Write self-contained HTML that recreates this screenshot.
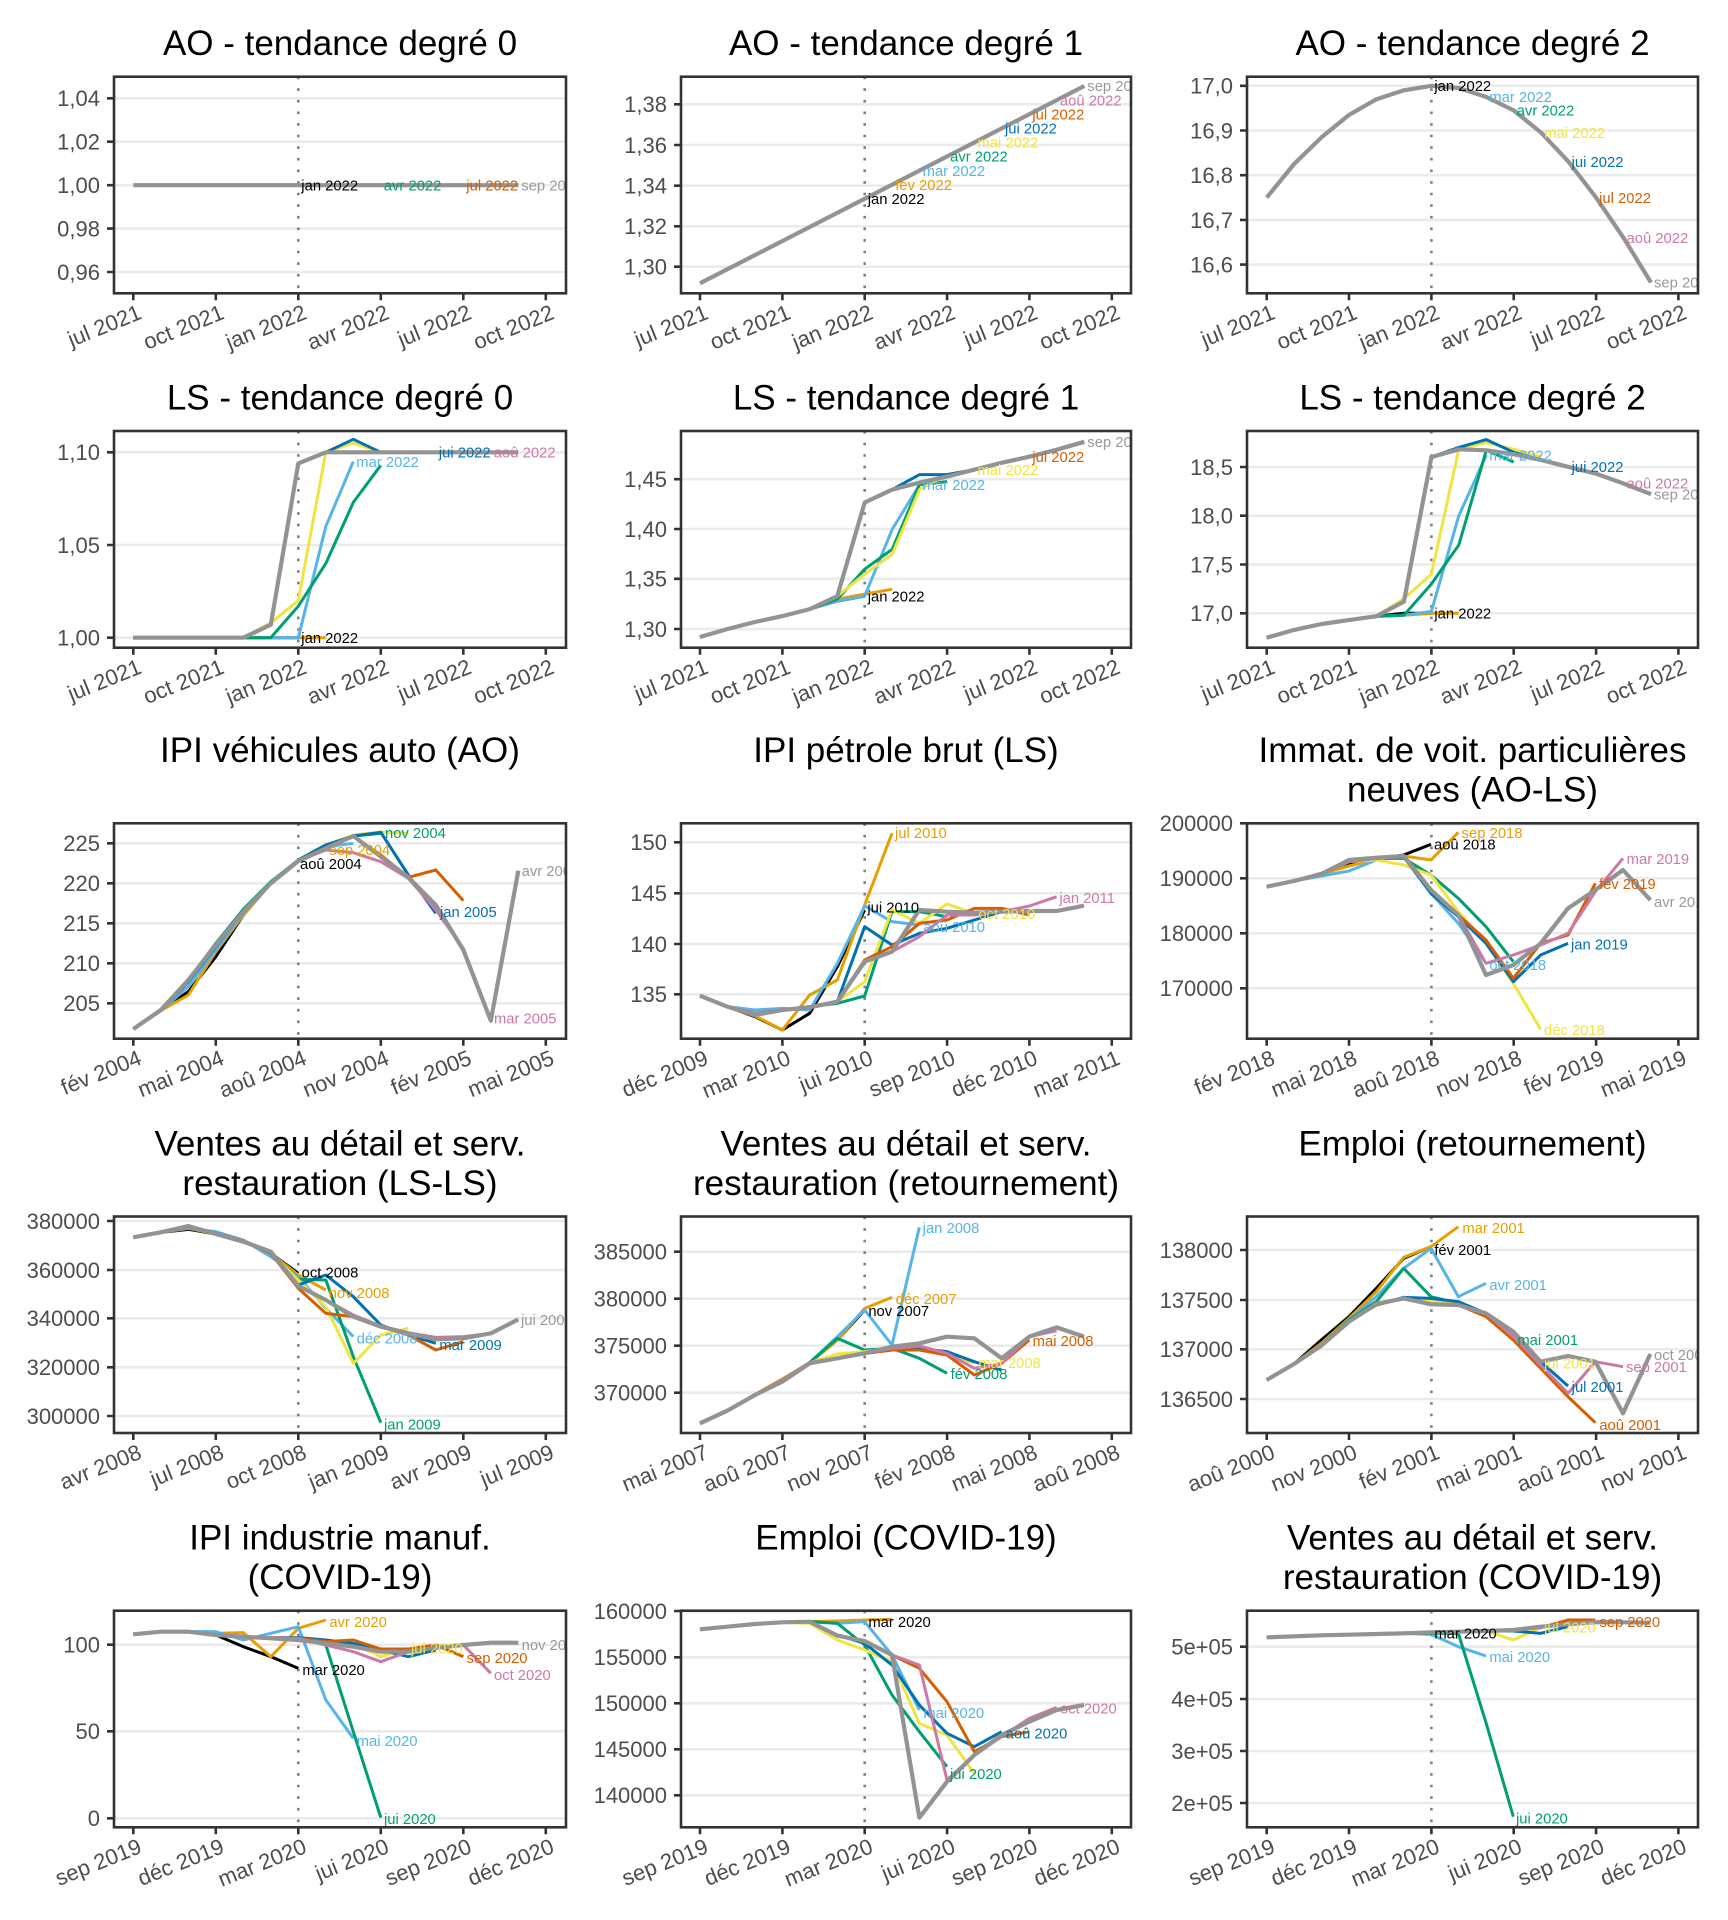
<!DOCTYPE html>
<html><head><meta charset="utf-8">
<style>
html,body{margin:0;padding:0;background:#fff}
svg{display:block}
polyline{fill:none;stroke-width:3;stroke-linejoin:round;stroke-linecap:butt;vector-effect:non-scaling-stroke}
.b{stroke:#000}.o{stroke:#E69F00}.s{stroke:#56B4E9}.g{stroke:#009E73}.y{stroke:#F0E442}.u{stroke:#0072B2}.v{stroke:#D55E00}.p{stroke:#CC79A7}.k{stroke:#939393;stroke-width:4.2}
.tb{fill:#000}.to{fill:#E69F00}.ts{fill:#56B4E9}.tg{fill:#009E73}.ty{fill:#F0E442}.tu{fill:#0072B2}.tv{fill:#D55E00}.tp{fill:#CC79A7}.tk{fill:#999999}
.grid{stroke:#ebebeb;stroke-width:2.6;fill:none}
.vl{stroke:#7f7f7f;stroke-width:2.6;stroke-dasharray:2.6 9;fill:none}
.bd{fill:none;stroke:#333;stroke-width:2.6}
.tick{stroke:#333;stroke-width:2.6;fill:none}
.yt text{font-size:22px;fill:#4d4d4d;text-anchor:end}
.xt text{font-size:22px;fill:#4d4d4d;text-anchor:end}
.ttl text{font-size:35px;fill:#000;text-anchor:middle}
.lab text{font-size:14.8px}
.zl text{font-size:44.4px}
</style></head>
<body>
<svg width="1728" height="1920" viewBox="0 0 1728 1920" xmlns="http://www.w3.org/2000/svg" font-family="'Liberation Sans', Arial, sans-serif">
<defs>
<clipPath id="c1"><rect x="114" y="76.7" width="452" height="216.6"/></clipPath>
<clipPath id="c2"><rect x="681" y="76.7" width="450" height="216.6"/></clipPath>
<clipPath id="c3"><rect x="1247" y="76.7" width="451" height="216.6"/></clipPath>
<clipPath id="c4"><rect x="114" y="431" width="452" height="216.7"/></clipPath>
<clipPath id="c5"><rect x="681" y="431" width="450" height="216.7"/></clipPath>
<clipPath id="c6"><rect x="1247" y="431" width="451" height="216.7"/></clipPath>
<clipPath id="c7"><rect x="114" y="823.3" width="452" height="215.4"/></clipPath>
<clipPath id="c8"><rect x="681" y="823.3" width="450" height="215.4"/></clipPath>
<clipPath id="c9"><rect x="1247" y="823.3" width="451" height="215.4"/></clipPath>
<clipPath id="c10"><rect x="114" y="1216.5" width="452" height="216.5"/></clipPath>
<clipPath id="c11"><rect x="681" y="1216.5" width="450" height="216.5"/></clipPath>
<clipPath id="c12"><rect x="1247" y="1216.5" width="451" height="216.5"/></clipPath>
<clipPath id="c13"><rect x="114" y="1610.7" width="452" height="216.6"/></clipPath>
<clipPath id="c14"><rect x="681" y="1610.7" width="450" height="216.6"/></clipPath>
<clipPath id="c15"><rect x="1247" y="1610.7" width="451" height="216.6"/></clipPath>
</defs>

<!-- ================= TITLES ================= -->
<g class="ttl">
<text x="340" y="55">AO - tendance degré 0</text>
<text x="906" y="55">AO - tendance degré 1</text>
<text x="1472.5" y="55">AO - tendance degré 2</text>
<text x="340" y="409.3">LS - tendance degré 0</text>
<text x="906" y="409.3">LS - tendance degré 1</text>
<text x="1472.5" y="409.3">LS - tendance degré 2</text>
<text x="340" y="762">IPI véhicules auto (AO)</text>
<text x="906" y="762">IPI pétrole brut (LS)</text>
<text x="1472.5" y="762">Immat. de voit. particulières</text>
<text x="1472.5" y="801.6">neuves (AO-LS)</text>
<text x="340" y="1155.3">Ventes au détail et serv.</text>
<text x="340" y="1194.8">restauration (LS-LS)</text>
<text x="906" y="1155.3">Ventes au détail et serv.</text>
<text x="906" y="1194.8">restauration (retournement)</text>
<text x="1472.5" y="1155.3">Emploi (retournement)</text>
<text x="340" y="1549.5">IPI industrie manuf.</text>
<text x="340" y="1589">(COVID-19)</text>
<text x="906" y="1549.5">Emploi (COVID-19)</text>
<text x="1472.5" y="1549.5">Ventes au détail et serv.</text>
<text x="1472.5" y="1589">restauration (COVID-19)</text>
</g>

<!-- ================= GRIDLINES ================= -->
<path class="grid" d="M114 98.3H566M114 141.7H566M114 185.2H566M114 228.6H566M114 272H566
M681 104.3H1131M681 145H1131M681 185.7H1131M681 226.3H1131M681 266.7H1131
M1247 85.8H1698M1247 130.5H1698M1247 175.2H1698M1247 219.9H1698M1247 264.6H1698
M114 452.3H566M114 545H566M114 637.7H566
M681 479.2H1131M681 529H1131M681 578.8H1131M681 629H1131
M1247 467H1698M1247 515.7H1698M1247 564.5H1698M1247 613.3H1698
M114 843.3H566M114 883.3H566M114 923.3H566M114 963.3H566M114 1003.3H566
M681 842.3H1131M681 893.3H1131M681 944H1131M681 994.3H1131
M1247 824.5H1698M1247 878.3H1698M1247 933.3H1698M1247 988.3H1698
M114 1221H566M114 1270H566M114 1318.3H566M114 1367.3H566M114 1416H566
M681 1251.7H1131M681 1298.7H1131M681 1345.7H1131M681 1392.7H1131
M1247 1250H1698M1247 1300H1698M1247 1349.3H1698M1247 1399H1698
M114 1644.7H566M114 1731.3H566M114 1818.3H566
M681 1612H1131M681 1657.3H1131M681 1703.3H1131M681 1749.3H1131M681 1795.3H1131
M1247 1646.7H1698M1247 1699H1698M1247 1751H1698M1247 1803H1698"/>

<!-- ================= VERTICAL DOTTED LINES ================= -->
<path class="vl" d="M298.3 76.7V293.3M864.7 76.7V293.3M1431.4 76.7V293.3
M298.3 431V647.7M864.7 431V647.7M1431.4 431V647.7
M298.3 823.3V1038.7M864.7 823.3V1038.7M1431.4 823.3V1038.7
M298.3 1216.5V1433M864.7 1216.5V1433M1431.4 1216.5V1433
M298.3 1610.7V1827.3M864.7 1610.7V1827.3M1431.4 1610.7V1827.3"/>

<!-- ================= P1 ================= -->
<g clip-path="url(#c1)">
<polyline class="k" points="133.3,185.2 518.3,185.2"/>
<g class="lab">
<text class="tb" x="301.3" y="185.2" dy=".35em">jan 2022</text>
<text class="tg" x="383.8" y="185.2" dy=".35em">avr 2022</text>
<text class="tv" x="466.3" y="185.2" dy=".35em">jul 2022</text>
<text class="tk" x="521.3" y="185.2" dy=".35em">sep 2022</text>
</g></g>

<!-- ================= P2 ================= -->
<g clip-path="url(#c2)">
<polyline class="k" points="700,283.3 1084.3,86"/>
<g class="lab">
<text class="tb" x="867.7" y="198.8" dy=".35em">jan 2022</text>
<text class="to" x="895.2" y="184.7" dy=".35em">fév 2022</text>
<text class="ts" x="922.6" y="170.6" dy=".35em">mar 2022</text>
<text class="tg" x="950.1" y="156.5" dy=".35em">avr 2022</text>
<text class="ty" x="977.5" y="142.4" dy=".35em">mai 2022</text>
<text class="tu" x="1005" y="128.3" dy=".35em">jui 2022</text>
<text class="tv" x="1032.4" y="114.2" dy=".35em">jul 2022</text>
<text class="tp" x="1059.9" y="100.1" dy=".35em">aoû 2022</text>
<text class="tk" x="1087.3" y="86" dy=".35em">sep 2022</text>
</g></g>

<!-- ================= P3 ================= -->
<g clip-path="url(#c3)">
<polyline class="k" points="1266.7,197.6 1294.1,164 1321.6,137.2 1349,114.9 1376.5,99.2 1403.9,90.3 1431.4,85.8 1458.8,88 1486.3,97 1513.7,110.4 1541.2,132.7 1568.6,161.8 1596.1,197.6 1623.5,237.8 1651,282.5"/>
<g class="lab">
<text class="tb" x="1434.4" y="85.8" dy=".35em">jan 2022</text>
<text class="ts" x="1489.3" y="97" dy=".35em">mar 2022</text>
<text class="tg" x="1516.7" y="110.4" dy=".35em">avr 2022</text>
<text class="ty" x="1544.2" y="132.7" dy=".35em">mai 2022</text>
<text class="tu" x="1571.6" y="161.8" dy=".35em">jui 2022</text>
<text class="tv" x="1599.1" y="197.6" dy=".35em">jul 2022</text>
<text class="tp" x="1626.5" y="237.8" dy=".35em">aoû 2022</text>
<text class="tk" x="1654" y="282.5" dy=".35em">sep 2022</text>
</g></g>

<!-- ================= P4 ================= -->
<g clip-path="url(#c4)">
<polyline class="b" points="133.3,637.7 298.3,637.7"/>
<polyline class="o" points="133.3,637.7 325.8,637.7"/>
<polyline class="s" points="133.3,637.7 298.3,637.7 325.8,526.5 353.3,461.6"/>
<polyline class="g" points="133.3,637.7 270.8,637.7 298.3,606.2 325.8,563.5 353.3,502.4 380.8,465.3"/>
<polyline class="y" points="133.3,637.7 243.3,637.7 270.8,622.9 298.3,600.6 325.8,452.3 353.3,443 380.8,452.3 408.3,452.3"/>
<polyline class="u" points="133.3,637.7 243.3,637.7 270.8,624.7 298.3,463.4 325.8,452.3 353.3,439.3 380.8,452.3 435.8,452.3"/>
<polyline class="v" points="133.3,637.7 243.3,637.7 270.8,624.7 298.3,463.4 325.8,452.3 463.3,452.3"/>
<polyline class="p" points="133.3,637.7 243.3,637.7 270.8,624.7 298.3,463.4 325.8,452.3 490.8,452.3"/>
<polyline class="k" points="133.3,637.7 243.3,637.7 270.8,624.7 298.3,463.4 325.8,452.3 518.3,452.3"/>
<g class="lab">
<text class="tb" x="301.3" y="637.7" dy=".35em">jan 2022</text>
<text class="ts" x="356.3" y="461.6" dy=".35em">mar 2022</text>
<text class="tu" x="438.8" y="452.3" dy=".35em">jui 2022</text>
<text class="tp" x="493.8" y="452.3" dy=".35em">aoû 2022</text>
</g></g>

<!-- ================= P5 ================= -->
<g clip-path="url(#c5)">
<polyline class="b" points="700,637 727.5,629 754.9,622 782.4,616.1 809.8,609.1 837.3,601.1 864.7,596.1"/>
<polyline class="o" points="700,637 727.5,629 754.9,622 782.4,616.1 809.8,609.1 837.3,599.1 864.7,594.1 892.2,589.2"/>
<polyline class="s" points="700,637 727.5,629 754.9,622 782.4,616.1 809.8,609.1 837.3,601 864.7,596.1 892.2,529.4 919.6,484.6"/>
<polyline class="g" points="700,637 727.5,629 754.9,622 782.4,616.1 809.8,609.1 837.3,599.1 864.7,569.2 892.2,549.3 919.6,484.6 947.1,481.6"/>
<polyline class="y" points="700,637 727.5,629 754.9,622 782.4,616.1 809.8,609.1 837.3,596.1 864.7,574.2 892.2,554.3 919.6,489.6 947.1,474.6 974.5,469.6"/>
<polyline class="u" points="700,637 727.5,629 754.9,622 782.4,616.1 809.8,609.1 837.3,596.1 864.7,502.5 892.2,489.6 919.6,474.6 947.1,474.6 974.5,469.6 1002,462.7"/>
<polyline class="v" points="700,637 727.5,629 754.9,622 782.4,616.1 809.8,609.1 837.3,596.1 864.7,502.5 892.2,489.6 919.6,482.6 947.1,476.6 974.5,469.6 1002,462.7 1029.4,456.7"/>
<polyline class="p" points="700,637 727.5,629 754.9,622 782.4,616.1 809.8,609.1 837.3,596.1 864.7,502.5 892.2,489.6 919.6,482.6 947.1,476.6 974.5,469.6 1002,462.7 1029.4,456.7 1056.9,449.7"/>
<polyline class="k" points="700,637 727.5,629 754.9,622 782.4,616.1 809.8,609.1 837.3,596.1 864.7,502.5 892.2,489.6 919.6,482.6 947.1,476.6 974.5,469.6 1002,462.7 1029.4,456.7 1056.9,449.7 1084.3,441.8"/>
<g class="lab">
<text class="tb" x="867.7" y="596.1" dy=".35em">jan 2022</text>
<text class="ts" x="922.6" y="484.6" dy=".35em">mar 2022</text>
<text class="ty" x="977.5" y="469.6" dy=".35em">mai 2022</text>
<text class="tv" x="1032.4" y="456.7" dy=".35em">jul 2022</text>
<text class="tk" x="1087.3" y="441.8" dy=".35em">sep 2022</text>
</g></g>

<!-- ================= P6 ================= -->
<g clip-path="url(#c6)">
<polyline class="b" points="1266.7,637.7 1294.1,629.9 1321.6,624 1349,620.1 1376.5,616.2 1403.9,613.3 1431.4,613.3"/>
<polyline class="o" points="1266.7,637.7 1294.1,629.9 1321.6,624 1349,620.1 1376.5,616.2 1403.9,615.3 1431.4,613.3 1458.8,613.3"/>
<polyline class="s" points="1266.7,637.7 1294.1,629.9 1321.6,624 1349,620.1 1376.5,616.2 1403.9,615.3 1431.4,611.4 1458.8,515.7 1486.3,455.2"/>
<polyline class="g" points="1266.7,637.7 1294.1,629.9 1321.6,624 1349,620.1 1376.5,616.2 1403.9,615.3 1431.4,584 1458.8,545 1486.3,450.3 1513.7,462"/>
<polyline class="y" points="1266.7,637.7 1294.1,629.9 1321.6,624 1349,620.1 1376.5,616.2 1403.9,598.7 1431.4,574.3 1458.8,449.3 1486.3,442.5 1513.7,449.3 1541.2,457.1"/>
<polyline class="u" points="1266.7,637.7 1294.1,629.9 1321.6,624 1349,620.1 1376.5,616.2 1403.9,601.6 1431.4,457.1 1458.8,447.4 1486.3,439.6 1513.7,452.3 1541.2,460.1 1568.6,466.9"/>
<polyline class="v" points="1266.7,637.7 1294.1,629.9 1321.6,624 1349,620.1 1376.5,616.2 1403.9,601.6 1431.4,457.1 1458.8,449.3 1486.3,450.3 1513.7,454.2 1541.2,460.1 1568.6,466.9 1596.1,473.7"/>
<polyline class="p" points="1266.7,637.7 1294.1,629.9 1321.6,624 1349,620.1 1376.5,616.2 1403.9,601.6 1431.4,457.1 1458.8,449.3 1486.3,450.3 1513.7,454.2 1541.2,460.1 1568.6,466.9 1596.1,473.7 1623.5,483.5"/>
<polyline class="k" points="1266.7,637.7 1294.1,629.9 1321.6,624 1349,620.1 1376.5,616.2 1403.9,601.6 1431.4,457.1 1458.8,449.3 1486.3,450.3 1513.7,454.2 1541.2,460.1 1568.6,466.9 1596.1,473.7 1623.5,483.5 1651,494.2"/>
<g class="lab">
<text class="tb" x="1434.4" y="613.3" dy=".35em">jan 2022</text>
<text class="ts" x="1489.3" y="455.2" dy=".35em">mar 2022</text>
<text class="tu" x="1571.6" y="466.9" dy=".35em">jui 2022</text>
<text class="tp" x="1626.5" y="483.5" dy=".35em">aoû 2022</text>
<text class="tk" x="1654" y="494.2" dy=".35em">sep 2022</text>
</g></g>

<!-- ================= P7 ================= -->
<g clip-path="url(#c7)"><g transform="translate(90,800) scale(0.333333)">
<polyline class="b" points="130,687 212.5,632 295,575 377.5,470 460,345 542.5,250 625,183"/>
<polyline class="o" points="130,687 212.5,632 295,585 377.5,455 460,345 542.5,250 625,180 707.5,140"/>
<polyline class="s" points="130,687 212.5,632 295,560 377.5,450 460,340 542.5,250 625,182 707.5,140 790,130"/>
<polyline class="g" points="130,687 212.5,632 295,540 377.5,430 460,328 542.5,245 625,180 707.5,135 790,108 872.5,100"/>
<polyline class="y" points="130,687 212.5,632 295,540 377.5,435 460,335 542.5,248 625,180 707.5,135 790,105 872.5,96 955,100"/>
<polyline class="u" points="130,687 212.5,632 295,545 377.5,440 460,335 542.5,248 625,180 707.5,135 790,108 872.5,97 955,225 1037.5,340"/>
<polyline class="v" points="130,687 212.5,632 295,540 377.5,435 460,335 542.5,250 625,183 707.5,145 790,110 872.5,165 955,232 1037.5,210 1120,302"/>
<polyline class="p" points="130,687 212.5,632 295,540 377.5,435 460,335 542.5,250 625,183 707.5,150 790,158 872.5,185 955,235 1037.5,330 1120,445 1202.5,660"/>
<polyline class="k" points="130,687 212.5,630 295,540 377.5,435 460,335 542.5,250 625,183 707.5,145 790,108 872.5,170 955,232 1037.5,315 1120,450 1202.5,662 1285,212"/>
<g class="zl">
<text class="tb" x="630" y="192" dy=".35em">aoû 2004</text>
<text class="to" x="718" y="150" dy=".35em">sep 2004</text>
<text class="tg" x="885" y="98" dy=".35em">nov 2004</text>
<text class="tu" x="1050" y="336" dy=".35em">jan 2005</text>
<text class="tp" x="1212" y="655" dy=".35em">mar 2005</text>
<text class="tk" x="1295" y="212" dy=".35em">avr 2005</text>
</g></g></g>

<!-- ================= P8 ================= -->
<g clip-path="url(#c8)"><g transform="translate(660,800) scale(0.333333)">
<polyline class="b" points="120,587 202,620 285,650 367,690 449,640 532,500 614,330"/>
<polyline class="o" points="120,587 202,620 285,648 367,690 449,585 532,540 614,315 696,100"/>
<polyline class="s" points="120,587 202,620 285,630 367,625 449,630 532,490 614,318 696,365 778,375"/>
<polyline class="g" points="120,587 202,620 285,640 367,630 449,620 532,610 614,588 696,335 778,335 861,350"/>
<polyline class="y" points="120,587 202,620 285,640 367,630 449,620 532,605 614,545 696,330 778,370 861,312 943,340"/>
<polyline class="u" points="120,587 202,620 285,640 367,630 449,620 532,605 614,380 696,435 778,400 861,385 943,360 1025,335"/>
<polyline class="v" points="120,587 202,620 285,640 367,630 449,620 532,605 614,480 696,440 778,370 861,360 943,325 1025,325 1108,345"/>
<polyline class="p" points="120,587 202,620 285,640 367,630 449,620 532,605 614,485 696,455 778,410 861,345 943,345 1025,335 1108,318 1190,290"/>
<polyline class="k" points="120,587 202,620 285,645 367,630 449,622 532,605 614,485 696,455 778,330 861,335 943,338 1025,335 1108,333 1190,333 1272,317"/>
<g class="zl">
<text class="tb" x="622" y="322" dy=".35em">jui 2010</text>
<text class="to" x="705" y="98" dy=".35em">jul 2010</text>
<text class="ts" x="790" y="380" dy=".35em">aoû 2010</text>
<text class="ty" x="955" y="342" dy=".35em">oct 2010</text>
<text class="tp" x="1198" y="293" dy=".35em">jan 2011</text>
</g></g></g>

<!-- ================= P9 ================= -->
<g clip-path="url(#c9)"><g transform="translate(1230,800) scale(0.333333)">
<polyline class="b" points="110,260 192,243 274,220 357,190 439,178 521,165 603,133"/>
<polyline class="o" points="110,260 192,243 274,222 357,198 439,178 521,168 603,180 685,97"/>
<polyline class="s" points="110,260 192,243 274,228 357,213 439,180 521,170 603,280 685,370 768,490"/>
<polyline class="g" points="110,260 192,243 274,222 357,185 439,175 521,175 603,225 685,295 768,380 850,485"/>
<polyline class="y" points="110,260 192,243 274,222 357,185 439,180 521,195 603,225 685,335 768,430 850,550 932,688"/>
<polyline class="u" points="110,260 192,243 274,222 357,185 439,175 521,170 603,280 685,350 768,430 850,545 932,465 1014,430"/>
<polyline class="v" points="110,260 192,243 274,222 357,185 439,175 521,170 603,270 685,345 768,420 850,535 932,430 1014,405 1096,250"/>
<polyline class="p" points="110,260 192,243 274,222 357,185 439,175 521,170 603,270 685,345 768,490 850,465 932,435 1014,400 1096,275 1179,175"/>
<polyline class="k" points="110,260 192,243 274,222 357,180 439,173 521,168 603,270 685,345 768,525 850,495 932,430 1014,325 1096,270 1179,210 1261,300"/>
<g class="zl">
<text class="tb" x="612" y="133" dy=".35em">aoû 2018</text>
<text class="to" x="695" y="98" dy=".35em">sep 2018</text>
<text class="ts" x="778" y="495" dy=".35em">oct 2018</text>
<text class="ty" x="942" y="690" dy=".35em">déc 2018</text>
<text class="tu" x="1023" y="433" dy=".35em">jan 2019</text>
<text class="tv" x="1107" y="252" dy=".35em">fév 2019</text>
<text class="tp" x="1190" y="177" dy=".35em">mar 2019</text>
<text class="tk" x="1272" y="305" dy=".35em">avr 2019</text>
</g></g></g>

<!-- ================= P10 ================= -->
<g clip-path="url(#c10)"><g transform="translate(90,1200) scale(0.333333)">
<polyline class="b" points="130,112 212.5,97 295,88 377.5,102 460,122 542.5,160 625,220"/>
<polyline class="o" points="130,112 212.5,97 295,85 377.5,102 460,125 542.5,160 625,225 707.5,270"/>
<polyline class="s" points="130,112 212.5,95 295,85 377.5,95 460,120 542.5,170 625,230 707.5,325 790,410"/>
<polyline class="g" points="130,112 212.5,97 295,82 377.5,100 460,122 542.5,160 625,238 707.5,240 790,470 872.5,668"/>
<polyline class="y" points="130,112 212.5,97 295,82 377.5,100 460,122 542.5,160 625,240 707.5,320 790,490 872.5,405 955,385"/>
<polyline class="u" points="130,112 212.5,97 295,82 377.5,100 460,122 542.5,160 625,255 707.5,225 790,290 872.5,375 955,405 1037.5,430"/>
<polyline class="v" points="130,112 212.5,97 295,82 377.5,100 460,122 542.5,160 625,265 707.5,340 790,350 872.5,380 955,405 1037.5,450 1120,425"/>
<polyline class="p" points="130,112 212.5,97 295,82 377.5,100 460,122 542.5,158 625,258 707.5,300 790,345 872.5,378 955,398 1037.5,412 1120,410 1202.5,400"/>
<polyline class="k" points="130,112 212.5,97 295,78 377.5,102 460,125 542.5,155 625,258 707.5,300 790,350 872.5,380 955,400 1037.5,418 1120,415 1202.5,400 1285,358"/>
<g class="zl">
<text class="tb" x="635" y="217" dy=".35em">oct 2008</text>
<text class="to" x="716" y="278" dy=".35em">nov 2008</text>
<text class="ts" x="800" y="415" dy=".35em">déc 2008</text>
<text class="tg" x="882" y="673" dy=".35em">jan 2009</text>
<text class="tu" x="1048" y="434" dy=".35em">mar 2009</text>
<text class="tk" x="1293" y="360" dy=".35em">jui 2009</text>
</g></g></g>

<!-- ================= P11 ================= -->
<g clip-path="url(#c11)"><g transform="translate(660,1200) scale(0.333333)">
<polyline class="b" points="120,670 202,632 285,585 367,540 449,488 532,420 614,330"/>
<polyline class="o" points="120,670 202,632 285,583 367,537 449,488 532,420 614,325 696,292"/>
<polyline class="s" points="120,670 202,632 285,585 367,540 449,488 532,410 614,330 696,435 778,82"/>
<polyline class="g" points="120,670 202,632 285,585 367,540 449,488 532,415 614,450 696,445 778,475 861,520"/>
<polyline class="y" points="120,670 202,632 285,585 367,540 449,488 532,462 614,455 696,445 778,445 861,462 943,490"/>
<polyline class="u" points="120,670 202,632 285,585 367,540 449,488 532,475 614,460 696,450 778,445 861,455 943,485 1025,510"/>
<polyline class="v" points="120,670 202,632 285,585 367,540 449,488 532,475 614,460 696,450 778,450 861,465 943,525 1025,490 1108,420"/>
<polyline class="p" points="120,670 202,632 285,585 367,540 449,488 532,475 614,460 696,445 778,438 861,460 943,505 1025,490 1108,410 1190,392"/>
<polyline class="k" points="120,670 202,632 285,585 367,545 449,490 532,475 614,460 696,440 778,430 861,410 943,415 1025,475 1108,410 1190,382 1272,410"/>
<g class="zl">
<text class="tb" x="625" y="332" dy=".35em">nov 2007</text>
<text class="to" x="707" y="297" dy=".35em">déc 2007</text>
<text class="ts" x="788" y="83" dy=".35em">jan 2008</text>
<text class="tg" x="872" y="522" dy=".35em">fév 2008</text>
<text class="ty" x="955" y="488" dy=".35em">mar 2008</text>
<text class="tv" x="1118" y="423" dy=".35em">mai 2008</text>
</g></g></g>

<!-- ================= P12 ================= -->
<g clip-path="url(#c12)"><g transform="translate(1230,1200) scale(0.333333)">
<polyline class="b" points="110,540 192,492 274,420 357,350 439,265 521,175 603,140"/>
<polyline class="o" points="110,540 192,492 274,430 357,355 439,275 521,172 603,140 685,80"/>
<polyline class="s" points="110,540 192,492 274,435 357,360 439,290 521,205 603,145 685,290 768,250"/>
<polyline class="g" points="110,540 192,492 274,435 357,360 439,305 521,205 603,290 685,310 768,340 850,420"/>
<polyline class="y" points="110,540 192,492 274,435 357,365 439,310 521,295 603,305 685,312 768,340 850,395 932,490"/>
<polyline class="u" points="110,540 192,492 274,435 357,365 439,315 521,292 603,295 685,305 768,340 850,410 932,485 1014,558"/>
<polyline class="v" points="110,540 192,492 274,437 357,365 439,315 521,295 603,312 685,315 768,350 850,420 932,505 1014,590 1096,668"/>
<polyline class="p" points="110,540 192,492 274,437 357,365 439,312 521,295 603,312 685,315 768,340 850,410 932,495 1014,580 1096,485 1179,500"/>
<polyline class="k" points="110,540 192,492 274,437 357,365 439,312 521,295 603,313 685,315 768,340 850,395 932,485 1014,468 1096,485 1179,640 1261,462"/>
<g class="zl">
<text class="tb" x="613" y="150" dy=".35em">fév 2001</text>
<text class="to" x="697" y="84" dy=".35em">mar 2001</text>
<text class="ts" x="778" y="255" dy=".35em">avr 2001</text>
<text class="tg" x="862" y="420" dy=".35em">mai 2001</text>
<text class="ty" x="942" y="490" dy=".35em">jui 2001</text>
<text class="tu" x="1025" y="560" dy=".35em">jul 2001</text>
<text class="tv" x="1108" y="675" dy=".35em">aoû 2001</text>
<text class="tp" x="1188" y="500" dy=".35em">sep 2001</text>
<text class="tk" x="1272" y="465" dy=".35em">oct 2001</text>
</g></g></g>

<!-- ================= P13 ================= -->
<g clip-path="url(#c13)"><g transform="translate(90,1595) scale(0.333333)">
<polyline class="b" points="130,118 212.5,110 295,110 377.5,120 460,155 542.5,185 625,220"/>
<polyline class="o" points="130,118 212.5,110 295,110 377.5,115 460,113 542.5,185 625,100 707.5,75"/>
<polyline class="s" points="130,118 212.5,110 295,110 377.5,110 460,135 542.5,115 625,95 707.5,315 790,430"/>
<polyline class="g" points="130,118 212.5,110 295,110 377.5,120 460,125 542.5,128 625,130 707.5,150 790,410 872.5,668"/>
<polyline class="y" points="130,118 212.5,110 295,110 377.5,120 460,125 542.5,128 625,130 707.5,138 790,145 872.5,185 955,160"/>
<polyline class="u" points="130,118 212.5,110 295,110 377.5,120 460,125 542.5,128 625,128 707.5,135 790,145 872.5,165 955,185 1037.5,165"/>
<polyline class="v" points="130,118 212.5,110 295,110 377.5,120 460,125 542.5,128 625,130 707.5,140 790,135 872.5,162 955,162 1037.5,150 1120,185"/>
<polyline class="p" points="130,118 212.5,110 295,110 377.5,120 460,125 542.5,128 625,130 707.5,150 790,170 872.5,200 955,170 1037.5,160 1120,150 1202.5,235"/>
<polyline class="k" points="130,118 212.5,110 295,110 377.5,120 460,125 542.5,130 625,135 707.5,145 790,155 872.5,170 955,170 1037.5,158 1120,150 1202.5,143 1285,143"/>
<g class="zl">
<text class="tb" x="637" y="225" dy=".35em">mar 2020</text>
<text class="to" x="718" y="80" dy=".35em">avr 2020</text>
<text class="ts" x="800" y="437" dy=".35em">mai 2020</text>
<text class="tg" x="882" y="672" dy=".35em">jui 2020</text>
<text class="ty" x="963" y="160" dy=".35em">jul 2020</text>
<text class="tv" x="1130" y="188" dy=".35em">sep 2020</text>
<text class="tp" x="1212" y="240" dy=".35em">oct 2020</text>
<text class="tk" x="1295" y="150" dy=".35em">nov 2020</text>
</g></g></g>

<!-- ================= P14 ================= -->
<g clip-path="url(#c14)"><g transform="translate(660,1595) scale(0.333333)">
<polyline class="b" points="120,103 202,95 285,87 367,82 449,80 532,80 614,78"/>
<polyline class="o" points="120,103 202,95 285,87 367,82 449,80 532,78 614,75 696,73"/>
<polyline class="s" points="120,103 202,95 285,87 367,82 449,80 532,85 614,80 696,180 778,345"/>
<polyline class="g" points="120,103 202,95 285,87 367,82 449,80 532,85 614,150 696,300 778,410 861,515"/>
<polyline class="y" points="120,103 202,95 285,87 367,82 449,85 532,135 614,165 696,200 778,385 861,420 943,535"/>
<polyline class="u" points="120,103 202,95 285,87 367,82 449,80 532,120 614,145 696,210 778,330 861,415 943,455 1025,410"/>
<polyline class="v" points="120,103 202,95 285,87 367,82 449,80 532,120 614,140 696,180 778,220 861,320 943,470 1025,425 1108,410"/>
<polyline class="p" points="120,103 202,95 285,87 367,82 449,80 532,122 614,140 696,180 778,210 861,555 943,480 1025,425 1108,370 1190,337"/>
<polyline class="k" points="120,103 202,95 285,87 367,82 449,80 532,122 614,138 696,180 778,668 861,560 943,480 1025,420 1108,380 1190,345 1272,330"/>
<g class="zl">
<text class="tb" x="625" y="80" dy=".35em">mar 2020</text>
<text class="ts" x="790" y="353" dy=".35em">mai 2020</text>
<text class="tg" x="870" y="537" dy=".35em">jui 2020</text>
<text class="tu" x="1037" y="415" dy=".35em">aoû 2020</text>
<text class="tp" x="1200" y="340" dy=".35em">oct 2020</text>
</g></g></g>

<!-- ================= P15 ================= -->
<g clip-path="url(#c15)"><g transform="translate(1230,1595) scale(0.333333)">
<polyline class="b" points="110,127 192,124 274,121 357,119 439,117 521,115 603,115"/>
<polyline class="o" points="110,127 192,124 274,121 357,119 439,117 521,115 603,112 685,110"/>
<polyline class="s" points="110,127 192,124 274,121 357,119 439,117 521,115 603,118 685,155 768,183"/>
<polyline class="g" points="110,127 192,124 274,121 357,119 439,117 521,115 603,115 685,115 768,383 850,665"/>
<polyline class="y" points="110,127 192,124 274,121 357,119 439,117 521,115 603,112 685,110 768,108 850,135 932,97"/>
<polyline class="u" points="110,127 192,124 274,121 357,119 439,117 521,115 603,112 685,110 768,108 850,108 932,115 1014,95"/>
<polyline class="v" points="110,127 192,124 274,121 357,119 439,117 521,115 603,112 685,110 768,108 850,105 932,98 1014,75 1096,75"/>
<polyline class="p" points="110,127 192,124 274,121 357,119 439,117 521,115 603,112 685,110 768,108 850,105 932,95 1014,85 1096,80 1179,80"/>
<polyline class="k" points="110,127 192,124 274,121 357,119 439,117 521,115 603,112 685,110 768,108 850,105 932,95 1014,88 1096,82 1179,82 1261,83"/>
<g class="zl">
<text class="tb" x="613" y="115" dy=".35em">mar 2020</text>
<text class="ts" x="778" y="186" dy=".35em">mai 2020</text>
<text class="tg" x="858" y="670" dy=".35em">jui 2020</text>
<text class="ty" x="942" y="97" dy=".35em">jul 2020</text>
<text class="tv" x="1108" y="80" dy=".35em">sep 2020</text>
</g></g></g>

<!-- ================= BORDERS ================= -->
<g class="bd">
<rect x="114" y="76.7" width="452" height="216.6"/>
<rect x="681" y="76.7" width="450" height="216.6"/>
<rect x="1247" y="76.7" width="451" height="216.6"/>
<rect x="114" y="431" width="452" height="216.7"/>
<rect x="681" y="431" width="450" height="216.7"/>
<rect x="1247" y="431" width="451" height="216.7"/>
<rect x="114" y="823.3" width="452" height="215.4"/>
<rect x="681" y="823.3" width="450" height="215.4"/>
<rect x="1247" y="823.3" width="451" height="215.4"/>
<rect x="114" y="1216.5" width="452" height="216.5"/>
<rect x="681" y="1216.5" width="450" height="216.5"/>
<rect x="1247" y="1216.5" width="451" height="216.5"/>
<rect x="114" y="1610.7" width="452" height="216.6"/>
<rect x="681" y="1610.7" width="450" height="216.6"/>
<rect x="1247" y="1610.7" width="451" height="216.6"/>
</g>

<!-- ================= TICK MARKS ================= -->
<path class="tick" d="
M107 98.3H114M107 141.7H114M107 185.2H114M107 228.6H114M107 272H114
M674 104.3H681M674 145H681M674 185.7H681M674 226.3H681M674 266.7H681
M1240 85.8H1247M1240 130.5H1247M1240 175.2H1247M1240 219.9H1247M1240 264.6H1247
M107 452.3H114M107 545H114M107 637.7H114
M674 479.2H681M674 529H681M674 578.8H681M674 629H681
M1240 467H1247M1240 515.7H1247M1240 564.5H1247M1240 613.3H1247
M107 843.3H114M107 883.3H114M107 923.3H114M107 963.3H114M107 1003.3H114
M674 842.3H681M674 893.3H681M674 944H681M674 994.3H681
M1240 823.3H1247M1240 878.3H1247M1240 933.3H1247M1240 988.3H1247
M107 1221H114M107 1270H114M107 1318.3H114M107 1367.3H114M107 1416H114
M674 1251.7H681M674 1298.7H681M674 1345.7H681M674 1392.7H681
M1240 1250H1247M1240 1300H1247M1240 1349.3H1247M1240 1399H1247
M107 1644.7H114M107 1731.3H114M107 1818.3H114
M674 1611H681M674 1657.3H681M674 1703.3H681M674 1749.3H681M674 1795.3H681
M1240 1646.7H1247M1240 1699H1247M1240 1751H1247M1240 1803H1247
M133.3 293.3v7M215.8 293.3v7M298.3 293.3v7M380.8 293.3v7M463.3 293.3v7M545.8 293.3v7
M700 293.3v7M782.4 293.3v7M864.7 293.3v7M947.1 293.3v7M1029.4 293.3v7M1111.8 293.3v7
M1266.7 293.3v7M1349 293.3v7M1431.4 293.3v7M1513.7 293.3v7M1596.1 293.3v7M1678.4 293.3v7
M133.3 647.7v7M215.8 647.7v7M298.3 647.7v7M380.8 647.7v7M463.3 647.7v7M545.8 647.7v7
M700 647.7v7M782.4 647.7v7M864.7 647.7v7M947.1 647.7v7M1029.4 647.7v7M1111.8 647.7v7
M1266.7 647.7v7M1349 647.7v7M1431.4 647.7v7M1513.7 647.7v7M1596.1 647.7v7M1678.4 647.7v7
M133.3 1038.7v7M215.8 1038.7v7M298.3 1038.7v7M380.8 1038.7v7M463.3 1038.7v7M545.8 1038.7v7
M700 1038.7v7M782.4 1038.7v7M864.7 1038.7v7M947.1 1038.7v7M1029.4 1038.7v7M1111.8 1038.7v7
M1266.7 1038.7v7M1349 1038.7v7M1431.4 1038.7v7M1513.7 1038.7v7M1596.1 1038.7v7M1678.4 1038.7v7
M133.3 1433v7M215.8 1433v7M298.3 1433v7M380.8 1433v7M463.3 1433v7M545.8 1433v7
M700 1433v7M782.4 1433v7M864.7 1433v7M947.1 1433v7M1029.4 1433v7M1111.8 1433v7
M1266.7 1433v7M1349 1433v7M1431.4 1433v7M1513.7 1433v7M1596.1 1433v7M1678.4 1433v7
M133.3 1827.3v7M215.8 1827.3v7M298.3 1827.3v7M380.8 1827.3v7M463.3 1827.3v7M545.8 1827.3v7
M700 1827.3v7M782.4 1827.3v7M864.7 1827.3v7M947.1 1827.3v7M1029.4 1827.3v7M1111.8 1827.3v7
M1266.7 1827.3v7M1349 1827.3v7M1431.4 1827.3v7M1513.7 1827.3v7M1596.1 1827.3v7M1678.4 1827.3v7"/>

<!-- ================= Y TICK LABELS ================= -->
<g class="yt">
<text x="100" y="98.3" dy=".36em">1,04</text><text x="100" y="141.7" dy=".36em">1,02</text><text x="100" y="185.2" dy=".36em">1,00</text><text x="100" y="228.6" dy=".36em">0,98</text><text x="100" y="272" dy=".36em">0,96</text>
<text x="667" y="104.3" dy=".36em">1,38</text><text x="667" y="145" dy=".36em">1,36</text><text x="667" y="185.7" dy=".36em">1,34</text><text x="667" y="226.3" dy=".36em">1,32</text><text x="667" y="266.7" dy=".36em">1,30</text>
<text x="1233" y="85.8" dy=".36em">17,0</text><text x="1233" y="130.5" dy=".36em">16,9</text><text x="1233" y="175.2" dy=".36em">16,8</text><text x="1233" y="219.9" dy=".36em">16,7</text><text x="1233" y="264.6" dy=".36em">16,6</text>
<text x="100" y="452.3" dy=".36em">1,10</text><text x="100" y="545" dy=".36em">1,05</text><text x="100" y="637.7" dy=".36em">1,00</text>
<text x="667" y="479.2" dy=".36em">1,45</text><text x="667" y="529" dy=".36em">1,40</text><text x="667" y="578.8" dy=".36em">1,35</text><text x="667" y="629" dy=".36em">1,30</text>
<text x="1233" y="467" dy=".36em">18,5</text><text x="1233" y="515.7" dy=".36em">18,0</text><text x="1233" y="564.5" dy=".36em">17,5</text><text x="1233" y="613.3" dy=".36em">17,0</text>
<text x="100" y="843.3" dy=".36em">225</text><text x="100" y="883.3" dy=".36em">220</text><text x="100" y="923.3" dy=".36em">215</text><text x="100" y="963.3" dy=".36em">210</text><text x="100" y="1003.3" dy=".36em">205</text>
<text x="667" y="842.3" dy=".36em">150</text><text x="667" y="893.3" dy=".36em">145</text><text x="667" y="944" dy=".36em">140</text><text x="667" y="994.3" dy=".36em">135</text>
<text x="1233" y="823.3" dy=".36em">200000</text><text x="1233" y="878.3" dy=".36em">190000</text><text x="1233" y="933.3" dy=".36em">180000</text><text x="1233" y="988.3" dy=".36em">170000</text>
<text x="100" y="1221" dy=".36em">380000</text><text x="100" y="1270" dy=".36em">360000</text><text x="100" y="1318.3" dy=".36em">340000</text><text x="100" y="1367.3" dy=".36em">320000</text><text x="100" y="1416" dy=".36em">300000</text>
<text x="667" y="1251.7" dy=".36em">385000</text><text x="667" y="1298.7" dy=".36em">380000</text><text x="667" y="1345.7" dy=".36em">375000</text><text x="667" y="1392.7" dy=".36em">370000</text>
<text x="1233" y="1250" dy=".36em">138000</text><text x="1233" y="1300" dy=".36em">137500</text><text x="1233" y="1349.3" dy=".36em">137000</text><text x="1233" y="1399" dy=".36em">136500</text>
<text x="100" y="1644.7" dy=".36em">100</text><text x="100" y="1731.3" dy=".36em">50</text><text x="100" y="1818.3" dy=".36em">0</text>
<text x="667" y="1611" dy=".36em">160000</text><text x="667" y="1657.3" dy=".36em">155000</text><text x="667" y="1703.3" dy=".36em">150000</text><text x="667" y="1749.3" dy=".36em">145000</text><text x="667" y="1795.3" dy=".36em">140000</text>
<text x="1233" y="1646.7" dy=".36em">5e+05</text><text x="1233" y="1699" dy=".36em">4e+05</text><text x="1233" y="1751" dy=".36em">3e+05</text><text x="1233" y="1803" dy=".36em">2e+05</text>
</g>

<!-- ================= X TICK LABELS ================= -->
<g class="xt">
<!-- Row 1 -->
<text transform="translate(137.3,304.3) rotate(-22)" y="15">jul 2021</text>
<text transform="translate(219.8,304.3) rotate(-22)" y="15">oct 2021</text>
<text transform="translate(302.3,304.3) rotate(-22)" y="15">jan 2022</text>
<text transform="translate(384.8,304.3) rotate(-22)" y="15">avr 2022</text>
<text transform="translate(467.3,304.3) rotate(-22)" y="15">jul 2022</text>
<text transform="translate(549.8,304.3) rotate(-22)" y="15">oct 2022</text>
<text transform="translate(704,304.3) rotate(-22)" y="15">jul 2021</text>
<text transform="translate(786.4,304.3) rotate(-22)" y="15">oct 2021</text>
<text transform="translate(868.7,304.3) rotate(-22)" y="15">jan 2022</text>
<text transform="translate(951.1,304.3) rotate(-22)" y="15">avr 2022</text>
<text transform="translate(1033.4,304.3) rotate(-22)" y="15">jul 2022</text>
<text transform="translate(1115.8,304.3) rotate(-22)" y="15">oct 2022</text>
<text transform="translate(1270.7,304.3) rotate(-22)" y="15">jul 2021</text>
<text transform="translate(1353,304.3) rotate(-22)" y="15">oct 2021</text>
<text transform="translate(1435.4,304.3) rotate(-22)" y="15">jan 2022</text>
<text transform="translate(1517.7,304.3) rotate(-22)" y="15">avr 2022</text>
<text transform="translate(1600.1,304.3) rotate(-22)" y="15">jul 2022</text>
<text transform="translate(1682.4,304.3) rotate(-22)" y="15">oct 2022</text>
<!-- Row 2 -->
<text transform="translate(137.3,658.7) rotate(-22)" y="15">jul 2021</text>
<text transform="translate(219.8,658.7) rotate(-22)" y="15">oct 2021</text>
<text transform="translate(302.3,658.7) rotate(-22)" y="15">jan 2022</text>
<text transform="translate(384.8,658.7) rotate(-22)" y="15">avr 2022</text>
<text transform="translate(467.3,658.7) rotate(-22)" y="15">jul 2022</text>
<text transform="translate(549.8,658.7) rotate(-22)" y="15">oct 2022</text>
<text transform="translate(704,658.7) rotate(-22)" y="15">jul 2021</text>
<text transform="translate(786.4,658.7) rotate(-22)" y="15">oct 2021</text>
<text transform="translate(868.7,658.7) rotate(-22)" y="15">jan 2022</text>
<text transform="translate(951.1,658.7) rotate(-22)" y="15">avr 2022</text>
<text transform="translate(1033.4,658.7) rotate(-22)" y="15">jul 2022</text>
<text transform="translate(1115.8,658.7) rotate(-22)" y="15">oct 2022</text>
<text transform="translate(1270.7,658.7) rotate(-22)" y="15">jul 2021</text>
<text transform="translate(1353,658.7) rotate(-22)" y="15">oct 2021</text>
<text transform="translate(1435.4,658.7) rotate(-22)" y="15">jan 2022</text>
<text transform="translate(1517.7,658.7) rotate(-22)" y="15">avr 2022</text>
<text transform="translate(1600.1,658.7) rotate(-22)" y="15">jul 2022</text>
<text transform="translate(1682.4,658.7) rotate(-22)" y="15">oct 2022</text>
<!-- Row 3 -->
<text transform="translate(137.3,1049.7) rotate(-22)" y="15">fév 2004</text>
<text transform="translate(219.8,1049.7) rotate(-22)" y="15">mai 2004</text>
<text transform="translate(302.3,1049.7) rotate(-22)" y="15">aoû 2004</text>
<text transform="translate(384.8,1049.7) rotate(-22)" y="15">nov 2004</text>
<text transform="translate(467.3,1049.7) rotate(-22)" y="15">fév 2005</text>
<text transform="translate(549.8,1049.7) rotate(-22)" y="15">mai 2005</text>
<text transform="translate(704,1049.7) rotate(-22)" y="15">déc 2009</text>
<text transform="translate(786.4,1049.7) rotate(-22)" y="15">mar 2010</text>
<text transform="translate(868.7,1049.7) rotate(-22)" y="15">jui 2010</text>
<text transform="translate(951.1,1049.7) rotate(-22)" y="15">sep 2010</text>
<text transform="translate(1033.4,1049.7) rotate(-22)" y="15">déc 2010</text>
<text transform="translate(1115.8,1049.7) rotate(-22)" y="15">mar 2011</text>
<text transform="translate(1270.7,1049.7) rotate(-22)" y="15">fév 2018</text>
<text transform="translate(1353,1049.7) rotate(-22)" y="15">mai 2018</text>
<text transform="translate(1435.4,1049.7) rotate(-22)" y="15">aoû 2018</text>
<text transform="translate(1517.7,1049.7) rotate(-22)" y="15">nov 2018</text>
<text transform="translate(1600.1,1049.7) rotate(-22)" y="15">fév 2019</text>
<text transform="translate(1682.4,1049.7) rotate(-22)" y="15">mai 2019</text>
<!-- Row 4 -->
<text transform="translate(137.3,1444) rotate(-22)" y="15">avr 2008</text>
<text transform="translate(219.8,1444) rotate(-22)" y="15">jul 2008</text>
<text transform="translate(302.3,1444) rotate(-22)" y="15">oct 2008</text>
<text transform="translate(384.8,1444) rotate(-22)" y="15">jan 2009</text>
<text transform="translate(467.3,1444) rotate(-22)" y="15">avr 2009</text>
<text transform="translate(549.8,1444) rotate(-22)" y="15">jul 2009</text>
<text transform="translate(704,1444) rotate(-22)" y="15">mai 2007</text>
<text transform="translate(786.4,1444) rotate(-22)" y="15">aoû 2007</text>
<text transform="translate(868.7,1444) rotate(-22)" y="15">nov 2007</text>
<text transform="translate(951.1,1444) rotate(-22)" y="15">fév 2008</text>
<text transform="translate(1033.4,1444) rotate(-22)" y="15">mai 2008</text>
<text transform="translate(1115.8,1444) rotate(-22)" y="15">aoû 2008</text>
<text transform="translate(1270.7,1444) rotate(-22)" y="15">aoû 2000</text>
<text transform="translate(1353,1444) rotate(-22)" y="15">nov 2000</text>
<text transform="translate(1435.4,1444) rotate(-22)" y="15">fév 2001</text>
<text transform="translate(1517.7,1444) rotate(-22)" y="15">mai 2001</text>
<text transform="translate(1600.1,1444) rotate(-22)" y="15">aoû 2001</text>
<text transform="translate(1682.4,1444) rotate(-22)" y="15">nov 2001</text>
<!-- Row 5 -->
<text transform="translate(137.3,1838.3) rotate(-22)" y="15">sep 2019</text>
<text transform="translate(219.8,1838.3) rotate(-22)" y="15">déc 2019</text>
<text transform="translate(302.3,1838.3) rotate(-22)" y="15">mar 2020</text>
<text transform="translate(384.8,1838.3) rotate(-22)" y="15">jui 2020</text>
<text transform="translate(467.3,1838.3) rotate(-22)" y="15">sep 2020</text>
<text transform="translate(549.8,1838.3) rotate(-22)" y="15">déc 2020</text>
<text transform="translate(704,1838.3) rotate(-22)" y="15">sep 2019</text>
<text transform="translate(786.4,1838.3) rotate(-22)" y="15">déc 2019</text>
<text transform="translate(868.7,1838.3) rotate(-22)" y="15">mar 2020</text>
<text transform="translate(951.1,1838.3) rotate(-22)" y="15">jui 2020</text>
<text transform="translate(1033.4,1838.3) rotate(-22)" y="15">sep 2020</text>
<text transform="translate(1115.8,1838.3) rotate(-22)" y="15">déc 2020</text>
<text transform="translate(1270.7,1838.3) rotate(-22)" y="15">sep 2019</text>
<text transform="translate(1353,1838.3) rotate(-22)" y="15">déc 2019</text>
<text transform="translate(1435.4,1838.3) rotate(-22)" y="15">mar 2020</text>
<text transform="translate(1517.7,1838.3) rotate(-22)" y="15">jui 2020</text>
<text transform="translate(1600.1,1838.3) rotate(-22)" y="15">sep 2020</text>
<text transform="translate(1682.4,1838.3) rotate(-22)" y="15">déc 2020</text>
</g>
</svg>
</body></html>
